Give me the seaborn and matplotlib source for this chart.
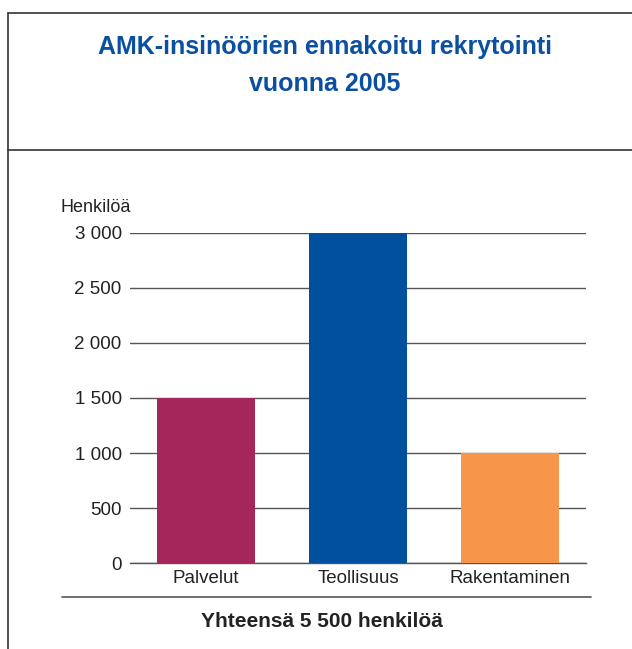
import matplotlib
matplotlib.use("Agg")
import matplotlib.pyplot as plt
from matplotlib.lines import Line2D
from matplotlib.ticker import FixedLocator, FuncFormatter
import pandas as pd
import seaborn as sns

# Data
categories = ["Palvelut", "Teollisuus", "Rakentaminen"]
recruits = [1500, 3000, 1000]
bar_colors = ["#A4275C", "#00509E", "#F7964A"]
y_ticks = [0, 500, 1000, 1500, 2000, 2500, 3000]

title = "AMK-insinöörien ennakoitu rekrytointi\nvuonna 2005"
y_unit = "Henkilöä"
total_text = "Yhteensä 5 500 henkilöä"

sns.set_theme(style="white")
plt.rcParams["font.family"] = ["Liberation Sans", "DejaVu Sans"]

df = pd.DataFrame({"ala": categories, "henkilot": recruits})

fig = plt.figure(figsize=(6.32, 6.49), dpi=100)
ax = fig.add_axes([0.2057, 0.1325, 0.7215, 0.5085])

sns.barplot(data=df, x="ala", y="henkilot", hue="ala", order=categories,
            palette=bar_colors, width=0.65, saturation=1, legend=False,
            linewidth=0, ax=ax, zorder=3)

ax.set_ylim(0, 3000)
ax.set_xlim(-0.5, len(categories) - 0.5)
ax.yaxis.set_major_locator(FixedLocator(y_ticks))
ax.yaxis.set_major_formatter(FuncFormatter(lambda v, p: f"{int(v):,}".replace(",", " ")))
ax.grid(axis="y", color="#555555", linewidth=1.0, zorder=0)
ax.set_axisbelow(True)

for side in ["left", "right", "top"]:
    ax.spines[side].set_visible(False)
ax.spines["bottom"].set_color("#555555")
ax.spines["bottom"].set_linewidth(1.0)

ax.tick_params(axis="y", length=0, labelsize=13.5, colors="#222222", pad=6)
ax.tick_params(axis="x", which="major", length=0, labelsize=13.5, colors="#222222", pad=5)
ax.xaxis.set_minor_locator(FixedLocator([-0.5, 0.5, 1.5, 2.5]))
ax.tick_params(axis="x", which="minor", direction="in", length=7, width=1.0, color="#555555")
ax.set_xlabel("")
ax.set_ylabel("")

# Text around the chart
fig.text(0.514, 0.899, title, ha="center", va="center", fontsize=18,
         fontweight="bold", color="#0A4FA0", linespacing=1.65)
fig.text(0.095, 0.681, y_unit, ha="left", va="center", fontsize=13, color="#222222")
fig.text(0.51, 0.043, total_text, ha="center", va="center", fontsize=15,
         fontweight="bold", color="#222222")

# Frame lines
line_color = "#333333"
fig.add_artist(Line2D([0.0127, 0.0127], [0.0, 0.98], color=line_color, linewidth=1.2))
fig.add_artist(Line2D([0.0127, 1.0], [0.98, 0.98], color=line_color, linewidth=1.2))
fig.add_artist(Line2D([0.0127, 1.0], [0.769, 0.769], color=line_color, linewidth=1.2))
fig.add_artist(Line2D([0.098, 0.935], [0.080, 0.080], color="#555555", linewidth=1.2))

fig.savefig("out.png", dpi=100)
